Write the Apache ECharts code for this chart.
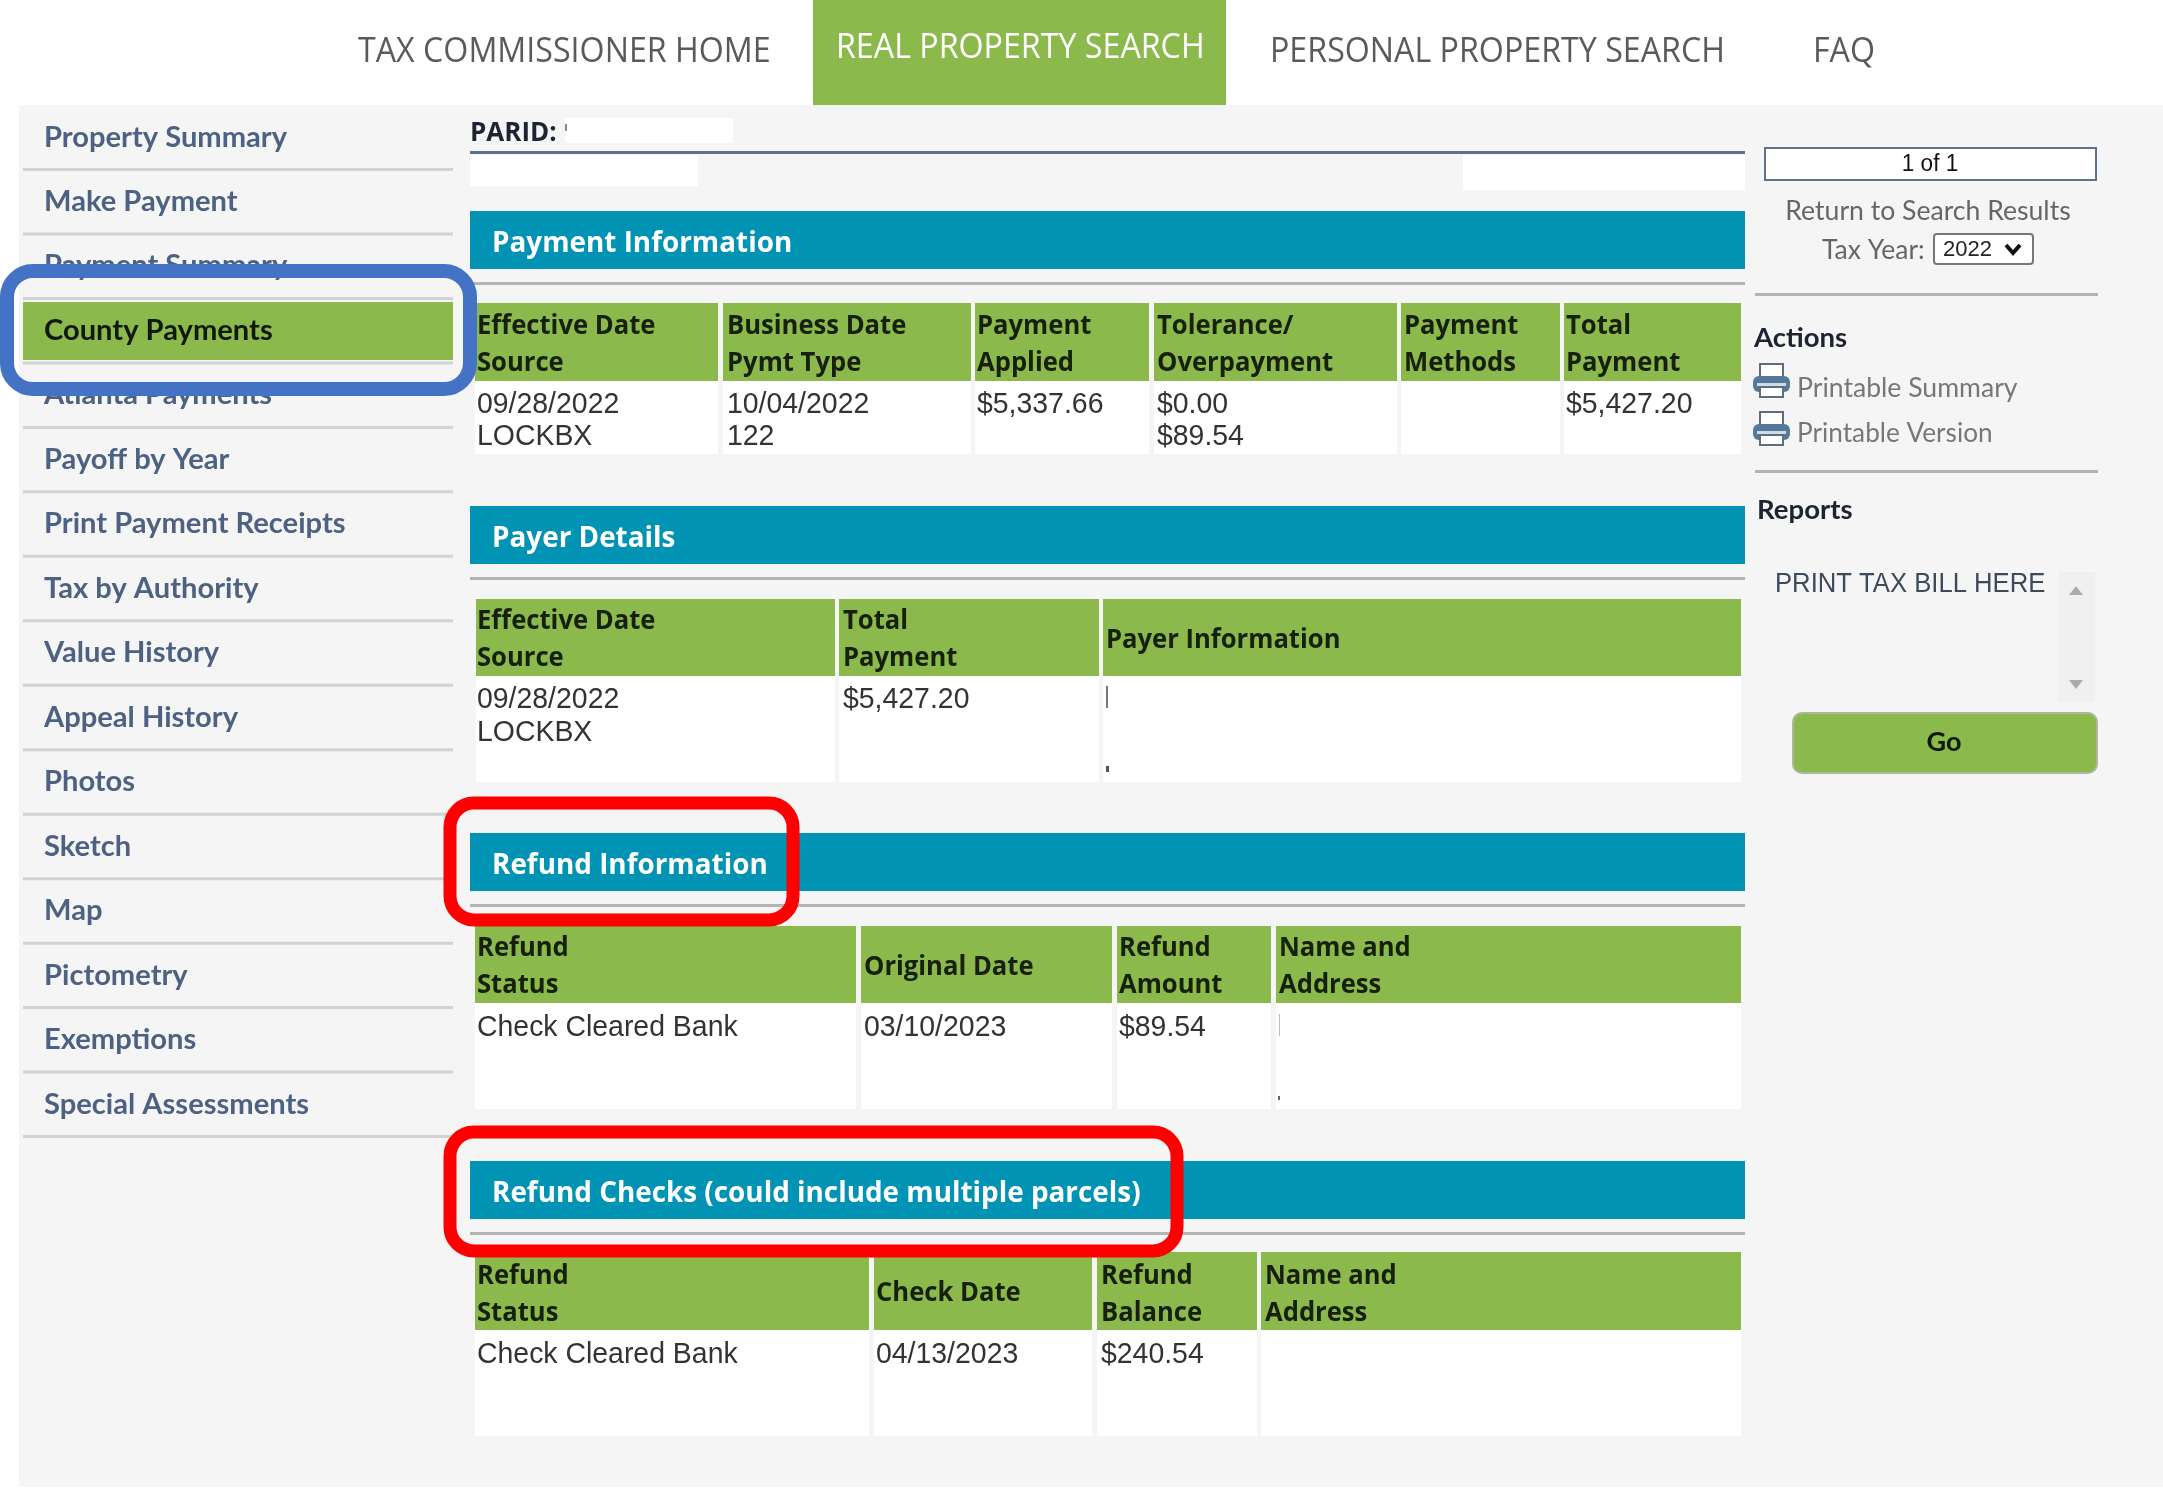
<!DOCTYPE html>
<html>
<head>
<meta charset="utf-8">
<title>County Payments</title>
<style>
html, body { margin: 0; padding: 0; background: #fff; }
#main { width: 2163px; height: 1488px; }
</style>
<script src="https://cdn.jsdelivr.net/npm/echarts@6/dist/echarts.min.js"></script>
</head>
<body>
<div id="main"></div>
<script>
// page text
var navItems = ["TAX COMMISSIONER HOME", "REAL PROPERTY SEARCH", "PERSONAL PROPERTY SEARCH", "FAQ"];
var sideItems = ["Property Summary", "Make Payment", "Payment Summary", "County Payments", "Atlanta Payments", "Payoff by Year",
	"Print Payment Receipts", "Tax by Authority", "Value History", "Appeal History", "Photos", "Sketch", "Map", "Pictometry",
	"Exemptions", "Special Assessments"];
var sectionTitles = ["Payment Information", "Payer Details", "Refund Information", "Refund Checks (could include multiple parcels)"];

var paymentHeaders = [["Effective Date", "Source"], ["Business Date", "Pymt Type"], ["Payment", "Applied"], ["Tolerance/", "Overpayment"], ["Payment", "Methods"], ["Total", "Payment"]];
var paymentRow = [["09/28/2022", "LOCKBX"], ["10/04/2022", "122"], ["$5,337.66"], ["$0.00", "$89.54"], [], ["$5,427.20"]];
var payerHeaders = [["Effective Date", "Source"], ["Total", "Payment"], ["Payer Information"]];
var payerRow = [["09/28/2022", "LOCKBX"], ["$5,427.20"], []];
var refundHeaders = [["Refund", "Status"], ["Original Date"], ["Refund", "Amount"], ["Name and", "Address"]];
var refundRow = [["Check Cleared Bank"], ["03/10/2023"], ["$89.54"], []];
var checkHeaders = [["Refund", "Status"], ["Check Date"], ["Refund", "Balance"], ["Name and", "Address"]];
var checkRow = [["Check Cleared Bank"], ["04/13/2023"], ["$240.54"], []];

var GREEN = "#8cb94b", TEAL = "#0093b3", PANEL = "#f5f5f5", RULE = "#b4b4b4", SLATE = "#5d728f";
var els = [];

function rect(x, y, w, h, fill, r, stroke, lw) {
	els.push({
		type: "rect",
		shape: { x: x, y: y, width: w, height: h, r: r || 0 },
		style: { fill: fill, stroke: stroke || null, lineWidth: lw || 0 }
	});
}

function text(x, y, str, size, font, color, weight, sx, align) {
	els.push({
		type: "text",
		x: x,
		y: y,
		scaleX: sx || 1,
		style: {
			text: str,
			x: 0,
			y: 0,
			fontSize: size,
			fontFamily: font,
			fontWeight: weight || "normal",
			fill: color,
			align: align || "left",
			verticalAlign: "middle"
		}
	});
}

function headText(x, y, str) { text(x, y, str, 26, "Open Sans", "#16200c", 700, 0.985); }
function bodyText(x, y, str) { text(x, y, str, 29, "Liberation Sans", "#333", "normal", 0.98); }

// one titled block: teal bar, rule, green header cells, white body cells
function section(title, top, cols, headTop, headBottom, bodyBottom, headers, row, headLines, bodyLines, textX) {
	rect(470, top, 1275, 58, TEAL);
	text(492, top + 33, title, 28, "Open Sans", "#fff", 700, 0.995);
	rect(470, top + 71, 1275, 3, RULE);
	for (var i = 0; i < cols.length; i++) {
		var c = cols[i];
		rect(c[0], headTop, c[1] - c[0], headBottom - headTop, GREEN);
		rect(c[0], headBottom, c[1] - c[0], bodyBottom - headBottom, "#fff");
		var h = headers[i];
		if (h.length == 1) {
			headText(textX[i], (headTop + headBottom) / 2 + 3, h[0]);
		} else {
			headText(textX[i], headLines[0], h[0]);
			headText(textX[i], headLines[1], h[1]);
		}
		for (var j = 0; j < row[i].length; j++) {
			bodyText(textX[i], bodyLines[j], row[i][j]);
		}
	}
}

function printer(x, y) {
	rect(x + 7, y + 1, 23, 14, "#fff", 0, "#5f6c7d", 2);
	rect(x, y + 13, 37, 16, "#55799b", 6);
	rect(x + 4, y + 20, 29, 3, "#cfdbe6");
	rect(x + 7, y + 24, 23, 10, "#fff", 0, "#5f6c7d", 2);
}

// page background
rect(19, 105, 2144, 1382, PANEL);

// top navigation
rect(813, 0, 413, 105, GREEN);
text(358, 52, navItems[0], 35, "Open Sans", "#5a5a5a", "normal", 0.92);
text(836, 48, navItems[1], 35, "Open Sans", "#fff", "normal", 0.92);
text(1270, 52, navItems[2], 35, "Open Sans", "#5a5a5a", "normal", 0.92);
text(1813, 52, navItems[3], 35, "Open Sans", "#5a5a5a", "normal", 0.92);

// left menu
for (var i = 0; i < sideItems.length; i++) {
	var cy = 137.5 + 64.47 * i;
	if (i == 3) {
		rect(23, 302, 430, 58, GREEN);
	}
	text(44, cy, sideItems[i], 28, "Lato", i == 3 ? "#10180a" : "#4d6283", 700, 1.04);
	rect(23, 168 + 64.47 * i, 430, 3, "#d2d2d2");
}

// parcel header
text(470, 134, "PARID:", 26, "Open Sans", "#1c2433", 700, 1);
rect(565, 118, 168, 25, "#fff");
rect(565, 124, 2, 7, "#8a8a8a");
rect(470, 151, 1275, 3, SLATE);
rect(470, 155, 228, 31, "#fff");
rect(1463, 155, 282, 35, "#fff");

// the four tables
section(sectionTitles[0], 211,
	[[475, 718], [723, 971], [975, 1149], [1154, 1397], [1401, 1560], [1564, 1741]],
	303, 381, 454, paymentHeaders, paymentRow, [327, 364], [405, 437],
	[477, 727, 977, 1157, 1404, 1566]);
section(sectionTitles[1], 506,
	[[476, 835], [839, 1099], [1103, 1741]],
	599, 676, 782, payerHeaders, payerRow, [622, 659], [700, 733],
	[477, 843, 1106]);
section(sectionTitles[2], 833,
	[[475, 856], [861, 1112], [1117, 1271], [1276, 1741]],
	926, 1003, 1109, refundHeaders, refundRow, [949, 986], [1028],
	[477, 864, 1119, 1279]);
section(sectionTitles[3], 1161,
	[[475, 869], [874, 1092], [1097, 1257], [1261, 1741]],
	1252, 1330, 1436, checkHeaders, checkRow, [1277, 1314], [1355],
	[477, 876, 1101, 1265]);

// leftovers of the blanked-out address cells
rect(1106, 686, 2, 22, "#777");
rect(1106, 766, 3, 6, "#555");
rect(1279, 1014, 1, 22, "#bbb");
rect(1278, 1096, 2, 4, "#666");

// right column
rect(1765, 148, 331, 32, "#fff", 0, SLATE, 2);
text(1930, 165, "1 of 1", 23, "Liberation Sans", "#111", "normal", 0.98, "center");
text(1928, 211, "Return to Search Results", 27, "Lato", "#666", "normal", 0.985, "center");
text(1822, 250, "Tax Year:", 27, "Lato", "#666", "normal", 0.98);
rect(1934, 234, 99, 30, "#fff", 3, "#777", 2);
text(1943, 250, "2022", 22, "Liberation Sans", "#222");
els.push({
	type: "polyline",
	shape: { points: [[2006, 245], [2013, 253], [2020, 245]] },
	style: { stroke: "#111", lineWidth: 4, fill: null }
});
rect(1755, 293, 343, 3, RULE);
text(1754, 338, "Actions", 27, "Lato", "#1c2433", 700, 1.02);
printer(1753, 363);
text(1797, 388, "Printable Summary", 27, "Lato", "#777", "normal", 0.985);
printer(1753, 411);
text(1797, 433, "Printable Version", 27, "Lato", "#777", "normal", 0.97);
rect(1755, 470, 343, 3, RULE);
text(1757, 510, "Reports", 27, "Lato", "#1c2433", 700, 1.02);
text(1775, 585, "PRINT TAX BILL HERE", 27, "Liberation Sans", "#3c4a5c", "normal", 0.95);
rect(2058, 572, 37, 130, "#f0f0f0");
els.push({ type: "polygon", shape: { points: [[2069, 595], [2076, 586], [2083, 595]] }, style: { fill: "#aaa" } });
els.push({ type: "polygon", shape: { points: [[2069, 680], [2083, 680], [2076, 689]] }, style: { fill: "#aaa" } });
rect(1793, 713, 304, 60, GREEN, 9, "#a9b99a", 2);
text(1944, 742, "Go", 27, "Lato", "#10180a", 700, 1, "center");

// markup boxes drawn over the page
rect(7, 271, 463, 118, null, 26, "#4472c4", 14);
rect(450, 803, 343, 117, null, 24, "#ff0000", 13);
rect(450, 1132, 727, 119, null, 24, "#ff0000", 13);

var chart = echarts.init(document.getElementById("main"));
chart.setOption({
	animation: false,
	graphic: { elements: els }
});
</script>
</body>
</html>
